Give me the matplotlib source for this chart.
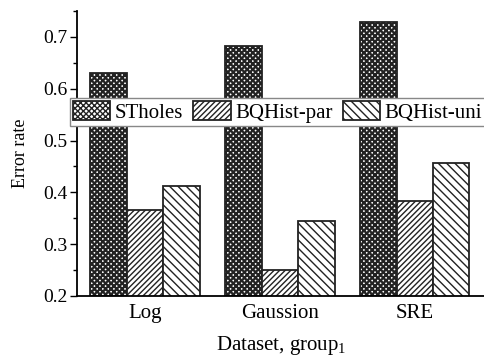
import numpy as np
import matplotlib
matplotlib.use("Agg")
import matplotlib.pyplot as plt
from matplotlib.ticker import MultipleLocator

# data
datasets = ["Log", "Gaussion", "SRE"]
series_names = ["STholes", "BQHist-par", "BQHist-uni"]
stholes = [0.630, 0.683, 0.729]
bqhist_par = [0.366, 0.250, 0.383]
bqhist_uni = [0.412, 0.345, 0.457]

plt.rcParams["font.family"] = ["Liberation Serif", "DejaVu Serif"]
plt.rcParams["mathtext.fontset"] = "custom"
plt.rcParams["mathtext.rm"] = "Liberation Serif"

fig = plt.figure(figsize=(4.85, 3.56), dpi=100)
ax = fig.add_axes([77 / 485, 1 - 296 / 356, 408 / 485, 285 / 356])

x = np.arange(len(datasets))
w = 0.27
hatches = ["xxxxxx", "//////", "\\\\\\\\"]
hatch_lw = [1.6, 1.0, 1.0]
for i, (name, vals) in enumerate(zip(series_names, [stholes, bqhist_par, bqhist_uni])):
    with plt.rc_context({"hatch.linewidth": hatch_lw[i]}):
        ax.bar(x + (i - 1) * w, vals, w, bottom=0, color="white", edgecolor="#222222",
               hatch=hatches[i], linewidth=1.3, label=name)

ax.set_ylim(0.2, 0.75)
ax.set_xlim(-0.505, 2.52)
ax.yaxis.set_major_locator(MultipleLocator(0.1))
ax.yaxis.set_minor_locator(MultipleLocator(0.05))
ax.set_yticks([0.2, 0.3, 0.4, 0.5, 0.6, 0.7])
ax.set_yticklabels(["0.2", "0.3", "0.4", "0.5", "0.6", "0.7"])
ax.tick_params(axis="y", which="major", direction="out", length=5, width=1, labelsize=14, pad=2)
ax.tick_params(axis="y", which="minor", direction="out", length=3, width=1)
ax.set_xticks(x)
ax.set_xticklabels(datasets)
ax.tick_params(axis="x", length=0, labelsize=15, pad=6)

ax.spines["top"].set_visible(False)
ax.spines["right"].set_visible(False)
ax.spines["left"].set_linewidth(1.3)
ax.spines["bottom"].set_linewidth(1.3)

ax.set_ylabel("Error rate", fontsize=13, labelpad=10)
ax.set_xlabel("Dataset, group$_\\mathrm{1}$", fontsize=15, labelpad=8)

leg = ax.legend(loc="upper left", bbox_to_anchor=(-0.018, 0.695), ncol=3,
                fontsize=15, frameon=True, fancybox=False, framealpha=1,
                edgecolor="#888888", handlelength=1.8, handleheight=1.0,
                handletextpad=0.2, columnspacing=0.5, borderpad=0.15,
                borderaxespad=0)
leg.get_frame().set_linewidth(1.0)

fig.savefig("out.png", dpi=100)
